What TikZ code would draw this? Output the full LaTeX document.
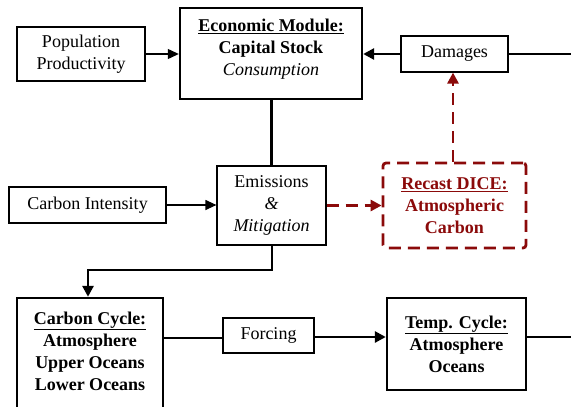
\documentclass[tikz,border=0pt]{standalone}
\usepackage{fontspec}
\setmainfont{Liberation Serif}
\usetikzlibrary{arrows.meta}
\definecolor{dred}{RGB}{139,10,10}
\begin{document}
\begin{tikzpicture}[x=1pt,y=-1pt,
  every node/.style={font=\fontsize{18}{22}\selectfont, align=center, inner sep=0pt},
  thinbox/.style={draw, line width=1.2pt, rectangle},
  thickbox/.style={draw, line width=2.4pt, rectangle},
  redbox/.style={draw=dred, text=dred, line width=2.8pt, dash pattern=on 12pt off 7pt, rounded corners=3pt, font=\fontsize{18}{22}\selectfont\bfseries},
  thinarrow/.style={line width=1.2pt, -{Triangle[length=11pt,width=10pt]}},
  thickline/.style={line width=2.8pt},
  thickarrow/.style={line width=2.8pt, -{Triangle[length=11pt,width=11pt]}},
  redarrow/.style={draw=dred, line width=2.8pt, dash pattern=on 12pt off 7pt, -{Triangle[length=11pt,width=11pt]}}
]
\useasboundingbox (0,0) rectangle (571,407);
% boxes
\node[thinbox, minimum width=128pt, minimum height=54pt] (pop) at (81,54) {Population\\Productivity};
\node[thickbox, minimum width=182pt, minimum height=91pt] (econ) at (271,53.5) {};
\node (econT) at (271,49) {\textbf{\underline{Economic Module:}}\\\textbf{Capital Stock}\\\textit{Consumption}};
\node[thinbox, minimum width=107pt, minimum height=36pt] (dam) at (454.5,54) {Damages};
\node[thinbox, minimum width=157pt, minimum height=36pt] (ci) at (87.5,205) {Carbon Intensity};
\node[thinbox, minimum width=109pt, minimum height=79pt] (emi) at (271.5,205.5) {Emissions\\\textit{\&}\\\textit{Mitigation}};
\node[redbox, minimum width=143pt, minimum height=85pt] (rec) at (454.5,205.5) {\underline{Recast DICE:}\\Atmospheric\\Carbon};
\node[thickbox, minimum width=146pt, minimum height=124pt] (cc) at (90,360) {};
\node[font=\fontsize{18}{22}\selectfont\bfseries] (ccT) at (90,351) {\underline{Carbon Cycle:}\\Atmosphere\\Upper Oceans\\Lower Oceans};
\node[thinbox, minimum width=91pt, minimum height=35pt] (forc) at (268.5,335.5) {Forcing};
\node[thickbox, minimum width=139pt, minimum height=92pt, font=\fontsize{18}{22}\selectfont\bfseries] (temp) at (456.5,344) {\underline{Temp. Cycle:}\\Atmosphere\\Oceans};
% free ends
\coordinate (rtop) at (572,54);
\coordinate (rbot) at (572,337);
\coordinate (bend1) at (272,270);
\coordinate (bend2) at (88,270);
% connectors
\draw[thinarrow] (pop.east) -- (econ.west |- pop.east);
\draw[thickarrow] (dam.west) -- (econ.east |- dam.west);
\draw[thickline] (dam.east) -- (rtop);
\draw[thickline] (econ.south -| emi.north) -- (emi.north);
\draw[thinarrow] (ci.east) -- (emi.west |- ci.east);
\draw[redarrow] (emi.east) -- (rec.west |- emi.east);
\draw[redarrow] (rec.north -| 453,0) -- (dam.south -| 453,0);
\draw[thickarrow] (emi.south -| bend1) -- (bend1) -- (bend2) -- (cc.north -| bend2);
\draw[thickline] (cc.east |- 0,338) -- (forc.west |- 0,338);
\draw[thickarrow] (forc.east |- 0,337) -- (temp.west |- 0,337);
\draw[thickline] (temp.east |- 0,337) -- (rbot);
\end{tikzpicture}
\end{document}
